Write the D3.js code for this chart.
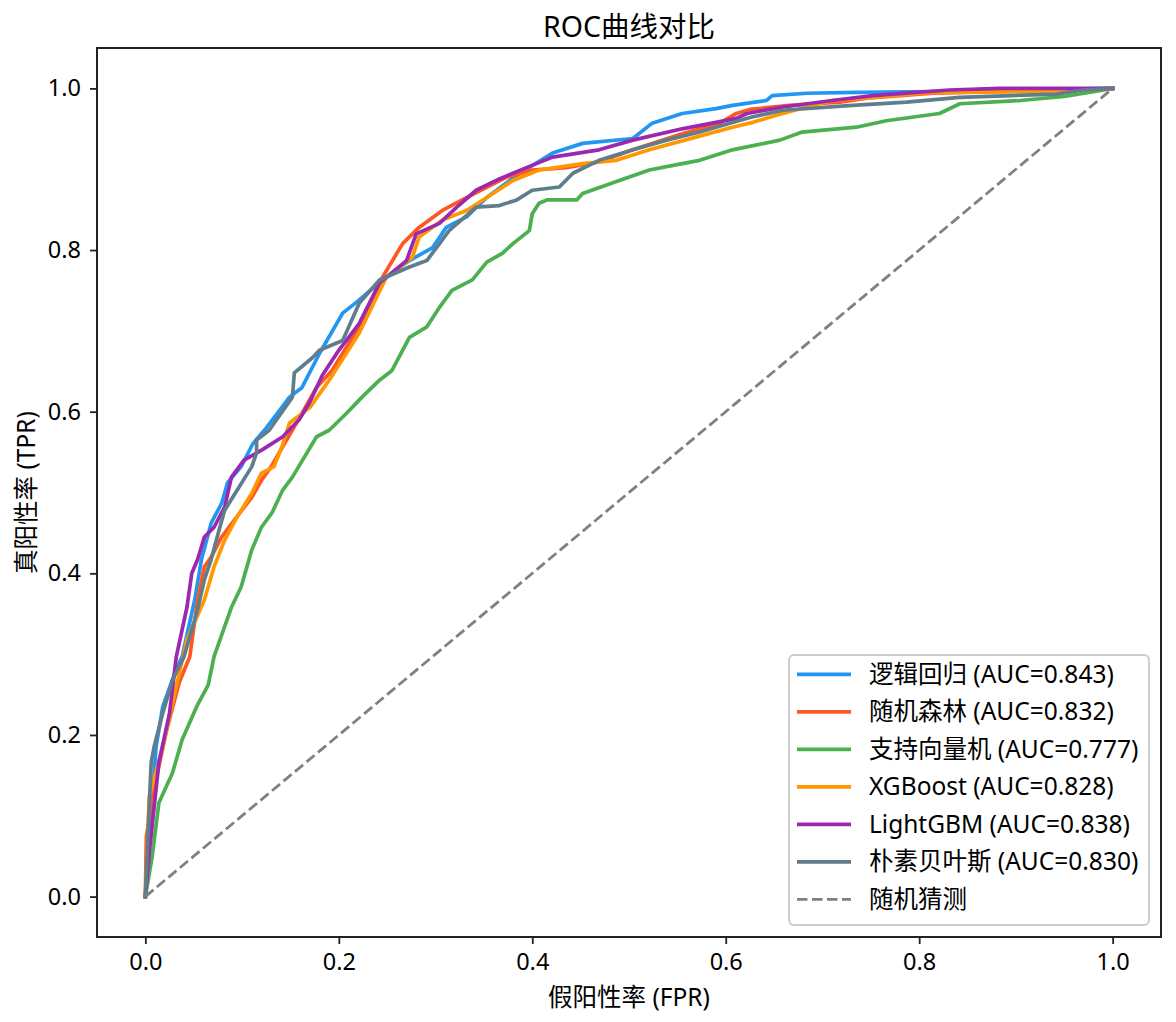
<!DOCTYPE html>
<html>
<head>
<meta charset="utf-8">
<script src="https://cdn.jsdelivr.net/npm/d3@7/dist/d3.min.js"></script>
<style>
  html, body { margin: 0; padding: 0; background: #ffffff; }
  svg text { font-family: "Noto Sans", "Noto Sans CJK SC", sans-serif; fill: #000; }
</style>
</head>
<body>
<svg id="chart" width="1176" height="1022"></svg>
<script>
// ---- data ----
const modelNames = ["逻辑回归", "随机森林", "支持向量机", "XGBoost", "LightGBM", "朴素贝叶斯"];
const aucValues = [0.843, 0.832, 0.777, 0.828, 0.838, 0.830];
const seriesColors = ["#2196F3", "#FF5722", "#4CAF50", "#FF9800", "#9C27B0", "#607D8B"];
const tickValues = [0.0, 0.2, 0.4, 0.6, 0.8, 1.0];
const chartTitle = "ROC曲线对比";
const xLabel = "假阳性率 (FPR)";
const yLabel = "真阳性率 (TPR)";
const diagonalLabel = "随机猜测";

const lrPoints = [[0,0],[0.004,0.062],[0.011,0.185],[0.018,0.235],[0.030,0.275],[0.038,0.297],[0.051,0.367],[0.058,0.417],[0.068,0.462],[0.079,0.487],[0.085,0.512],[0.099,0.532],[0.111,0.560],[0.125,0.580],[0.139,0.602],[0.149,0.618],[0.162,0.630],[0.180,0.672],[0.204,0.722],[0.221,0.738],[0.245,0.763],[0.273,0.787],[0.297,0.803],[0.311,0.828],[0.332,0.841],[0.353,0.865],[0.387,0.895],[0.421,0.920],[0.452,0.932],[0.504,0.938],[0.524,0.957],[0.555,0.969],[0.590,0.975],[0.607,0.979],[0.642,0.985],[0.648,0.991],[0.684,0.994],[0.735,0.995],[0.814,0.996],[1,1]];
const rfPoints = [[0,0],[0.001,0.074],[0.011,0.145],[0.022,0.206],[0.035,0.265],[0.046,0.297],[0.054,0.367],[0.061,0.408],[0.068,0.420],[0.079,0.445],[0.092,0.466],[0.110,0.494],[0.120,0.515],[0.130,0.532],[0.146,0.565],[0.162,0.598],[0.177,0.630],[0.193,0.651],[0.221,0.705],[0.245,0.766],[0.266,0.808],[0.283,0.828],[0.307,0.849],[0.332,0.865],[0.373,0.890],[0.400,0.899],[0.435,0.902],[0.469,0.909],[0.504,0.924],[0.555,0.944],[0.594,0.957],[0.611,0.969],[0.625,0.974],[0.666,0.979],[0.718,0.983],[0.746,0.988],[0.814,0.994],[0.883,0.996],[1,1]];
const svmPoints = [[0,0],[0.007,0.049],[0.014,0.116],[0.028,0.153],[0.038,0.194],[0.053,0.235],[0.065,0.262],[0.071,0.297],[0.089,0.358],[0.099,0.383],[0.110,0.429],[0.120,0.457],[0.131,0.475],[0.142,0.503],[0.152,0.519],[0.177,0.569],[0.190,0.577],[0.208,0.598],[0.224,0.618],[0.242,0.639],[0.255,0.651],[0.273,0.692],[0.291,0.705],[0.304,0.729],[0.317,0.750],[0.338,0.763],[0.353,0.785],[0.369,0.796],[0.380,0.808],[0.397,0.824],[0.400,0.845],[0.407,0.858],[0.415,0.862],[0.446,0.862],[0.452,0.870],[0.490,0.886],[0.521,0.899],[0.555,0.907],[0.573,0.911],[0.607,0.924],[0.656,0.936],[0.679,0.946],[0.735,0.952],[0.766,0.960],[0.821,0.969],[0.842,0.981],[0.904,0.985],[0.950,0.990],[1,1]];
const xgbPoints = [[0,0],[0.004,0.124],[0.018,0.185],[0.032,0.260],[0.043,0.318],[0.061,0.367],[0.071,0.408],[0.082,0.441],[0.095,0.470],[0.110,0.499],[0.120,0.524],[0.133,0.532],[0.141,0.556],[0.149,0.586],[0.170,0.605],[0.190,0.639],[0.221,0.697],[0.249,0.766],[0.276,0.791],[0.283,0.816],[0.307,0.837],[0.332,0.849],[0.353,0.865],[0.380,0.886],[0.407,0.899],[0.452,0.907],[0.487,0.911],[0.521,0.924],[0.573,0.941],[0.607,0.952],[0.628,0.958],[0.653,0.967],[0.687,0.978],[0.710,0.985],[0.752,0.989],[0.811,0.995],[0.917,0.996],[1,1]];
const lgbmPoints = [[0,0],[0.004,0.054],[0.014,0.166],[0.025,0.227],[0.032,0.297],[0.043,0.358],[0.048,0.400],[0.054,0.417],[0.061,0.445],[0.071,0.457],[0.082,0.482],[0.089,0.519],[0.102,0.540],[0.121,0.553],[0.142,0.569],[0.159,0.590],[0.170,0.612],[0.183,0.645],[0.200,0.676],[0.221,0.709],[0.242,0.759],[0.270,0.787],[0.280,0.820],[0.304,0.833],[0.322,0.853],[0.342,0.874],[0.366,0.888],[0.394,0.902],[0.421,0.915],[0.469,0.924],[0.504,0.936],[0.555,0.950],[0.590,0.958],[0.611,0.963],[0.622,0.969],[0.659,0.977],[0.710,0.985],[0.752,0.991],[0.831,0.998],[0.883,1.0],[1,1]];
const nbPoints = [[0,0],[0.006,0.166],[0.009,0.185],[0.018,0.227],[0.028,0.268],[0.040,0.297],[0.054,0.355],[0.061,0.392],[0.068,0.417],[0.077,0.457],[0.082,0.478],[0.095,0.503],[0.110,0.532],[0.115,0.549],[0.115,0.565],[0.128,0.577],[0.152,0.618],[0.154,0.648],[0.173,0.667],[0.180,0.676],[0.204,0.688],[0.221,0.734],[0.242,0.763],[0.273,0.779],[0.291,0.787],[0.301,0.803],[0.314,0.824],[0.342,0.853],[0.366,0.855],[0.384,0.862],[0.400,0.874],[0.428,0.878],[0.442,0.895],[0.469,0.911],[0.504,0.924],[0.539,0.936],[0.573,0.946],[0.625,0.964],[0.659,0.973],[0.731,0.979],[0.787,0.983],[0.842,0.989],[0.942,0.993],[0.969,0.998],[1,1]];
const diagonalPoints = [[0,0],[1,1]];

const seriesPoints = [lrPoints, rfPoints, svmPoints, xgbPoints, lgbmPoints, nbPoints];

// ---- layout ----
const FONT = '"Noto Sans", "Noto Sans CJK SC", sans-serif';
const svg = d3.select("#chart");
const plot = { left: 97, top: 48, right: 1161, bottom: 937 };

const x = d3.scaleLinear().domain([-0.05, 1.05]).range([plot.left, plot.right]);
const y = d3.scaleLinear().domain([-0.05, 1.05]).range([plot.bottom, plot.top]);

const clipId = "plotclip";
svg.append("clipPath").attr("id", clipId)
  .append("rect").attr("x", plot.left).attr("y", plot.top)
  .attr("width", plot.right - plot.left).attr("height", plot.bottom - plot.top);

const line = d3.line().x(d => x(d[0])).y(d => y(d[1]));

const g = svg.append("g").attr("clip-path", `url(#${clipId})`);
seriesPoints.forEach((pts, i) => {
  g.append("path").datum(pts)
    .attr("d", line)
    .attr("fill", "none")
    .attr("stroke", seriesColors[i])
    .attr("stroke-width", 3.7)
    .attr("stroke-linejoin", "round")
    .attr("stroke-linecap", "square");
});
g.append("path").datum(diagonalPoints)
  .attr("d", line)
  .attr("fill", "none")
  .attr("stroke", "#808080")
  .attr("stroke-width", 2.8)
  .attr("stroke-dasharray", "10.5,4.5");

// axes
const xAxis = d3.axisBottom(x).tickValues(tickValues).tickFormat(d3.format(".1f")).tickSize(7).tickPadding(9);
const yAxis = d3.axisLeft(y).tickValues(tickValues).tickFormat(d3.format(".1f")).tickSize(7).tickPadding(9);

const gx = svg.append("g").attr("transform", `translate(0,${plot.bottom})`).call(xAxis);
const gy = svg.append("g").attr("transform", `translate(${plot.left},0)`).call(yAxis);
[gx, gy].forEach(ax => {
  ax.select(".domain").remove();
  ax.selectAll(".tick line").attr("stroke", "#222").attr("stroke-width", 1.8);
  ax.selectAll(".tick text").attr("font-size", 23.5).attr("fill", "#000")
    .style("font-family", FONT);
});

// frame
svg.append("rect")
  .attr("x", plot.left).attr("y", plot.top)
  .attr("width", plot.right - plot.left).attr("height", plot.bottom - plot.top)
  .attr("fill", "none").attr("stroke", "#222").attr("stroke-width", 2);

// title & labels
svg.append("text").attr("x", (plot.left + plot.right) / 2).attr("y", 37)
  .attr("text-anchor", "middle").attr("font-size", 28.5).text(chartTitle);
svg.append("text").attr("x", (plot.left + plot.right) / 2).attr("y", 1006)
  .attr("text-anchor", "middle").attr("font-size", 24.5).text(xLabel);
svg.append("text").attr("transform", `translate(35,${(plot.top + plot.bottom) / 2}) rotate(-90)`)
  .attr("text-anchor", "middle").attr("font-size", 24.5).text(yLabel);

// legend
const legendLabels = modelNames.map((n, i) => `${n} (AUC=${aucValues[i].toFixed(3)})`).concat([diagonalLabel]);
const legendColors = seriesColors.concat(["#808080"]);
const lg = svg.append("g");
lg.append("rect")
  .attr("x", 789).attr("y", 655).attr("width", 360).attr("height", 270)
  .attr("rx", 5).attr("ry", 5)
  .attr("fill", "#ffffff").attr("fill-opacity", 0.8)
  .attr("stroke", "#cccccc").attr("stroke-width", 2);
legendLabels.forEach((lab, i) => {
  const cy = 674.3 + i * 37.5;
  const ln = lg.append("line")
    .attr("x1", 797).attr("x2", 851).attr("y1", cy).attr("y2", cy)
    .attr("stroke", legendColors[i]).attr("stroke-width", i < 6 ? 3.7 : 2.8);
  if (i === 6) ln.attr("stroke-dasharray", "10.5,4.5");
  lg.append("text").attr("x", 869).attr("y", cy).attr("dy", "0.35em")
    .attr("font-size", 24.5).text(lab);
});
</script>
</body>
</html>
